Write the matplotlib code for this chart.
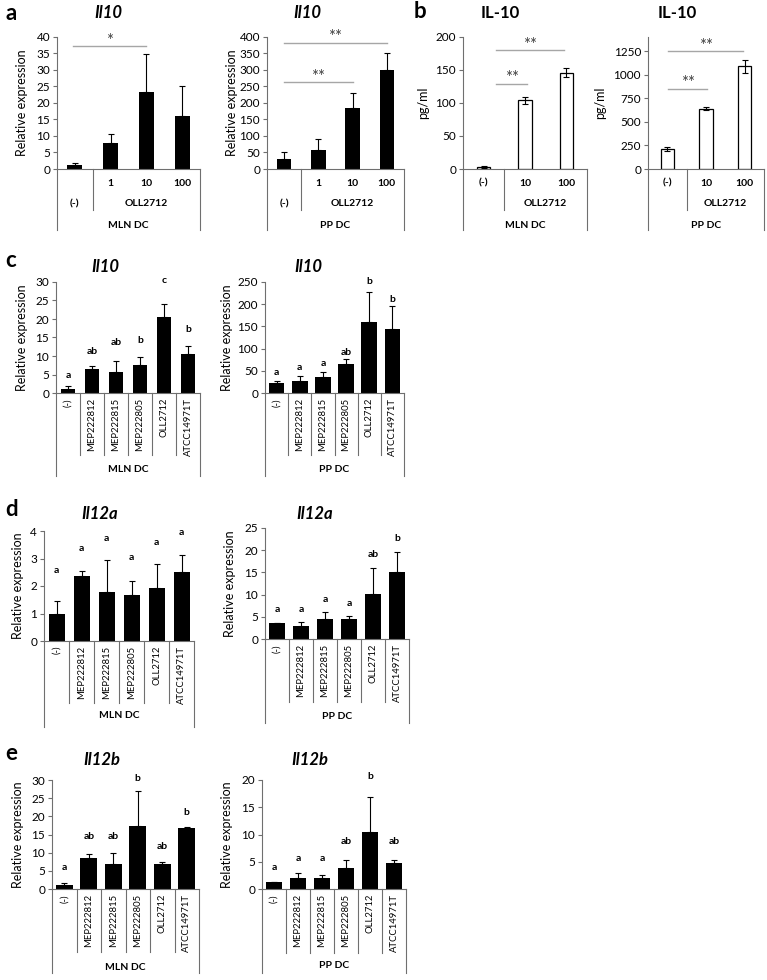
import numpy as np
import matplotlib
matplotlib.use('Agg')
import matplotlib.pyplot as plt

plt.rcParams['font.family'] = ['Lato', 'DejaVu Sans']

W, H = 767, 980
AXC = '#6f6f6f'
SIGC = '#a6a6a6'

# ---- panel a: Il10 qPCR, OLL2712 doses
a_doses = ['1', '10', '100']
a_mln = [1.2, 8.0, 23.2, 16.0]
a_mln_err = [0.5, 2.5, 11.5, 9.3]
a_pp = [29, 58, 185, 300]
a_pp_err = [21, 34, 44, 52]

# ---- panel b: IL-10 ELISA
b_doses = ['(-)', '10', '100']
b_mln = [3, 104, 146]
b_mln_err = [1, 5, 7]
b_pp = [214, 641, 1090]
b_pp_err = [20, 18, 70]

# ---- panels c-e: strains
strains = ['(-)', 'MEP222812', 'MEP222815', 'MEP222805', 'OLL2712', 'ATCC14971T']

c_mln = [1.1, 6.4, 5.8, 7.7, 20.6, 10.6]
c_mln_err = [0.7, 1.0, 2.9, 2.0, 3.5, 2.1]
c_mln_lab = ['a', 'ab', 'ab', 'b', 'c', 'b']
c_mln_lab_y = [4.8, 11.1, 13.6, 14.2, 30.4, 17.1]
c_pp = [22, 26.4, 35.4, 65.6, 161, 145]
c_pp_err = [4, 13, 13, 12, 67, 52]
c_pp_lab = ['a', 'a', 'a', 'ab', 'b', 'b']
c_pp_lab_y = [46.8, 56.6, 67, 90.5, 251, 211]

d_mln = [1.0, 2.38, 1.8, 1.69, 1.91, 2.51]
d_mln_err = [0.45, 0.18, 1.15, 0.48, 0.9, 0.63]
d_mln_lab = ['a', 'a', 'a', 'a', 'a', 'a']
d_mln_lab_y = [2.55, 3.36, 3.72, 3.02, 3.57, 3.96]
d_pp = [3.5, 2.9, 4.6, 4.6, 10.2, 15.0]
d_pp_err = [0.15, 1.0, 1.4, 0.5, 5.8, 4.6]
d_pp_lab = ['a', 'a', 'a', 'a', 'ab', 'b']
d_pp_lab_y = [6.7, 6.7, 9.0, 7.9, 19.1, 22.7]

e_mln = [1.1, 8.5, 6.8, 17.4, 7.0, 16.7]
e_mln_err = [0.5, 1.1, 3.1, 9.6, 0.35, 0.5]
e_mln_lab = ['a', 'ab', 'ab', 'b', 'ab', 'b']
e_mln_lab_y = [5.8, 14.5, 14.5, 30.5, 11.7, 21.1]
e_pp = [1.2, 1.96, 2.0, 3.9, 10.4, 4.7]
e_pp_err = [0.12, 1.0, 0.5, 1.5, 6.5, 0.6]
e_pp_lab = ['a', 'a', 'a', 'ab', 'b', 'ab']
e_pp_lab_y = [3.9, 5.6, 5.6, 8.7, 20.6, 8.7]

fig = plt.figure(figsize=(W / 100, H / 100), dpi=100)


def make_ax(x0, x1, ytop, ybot, ymax, step, n, tmax=None):
	ax = fig.add_axes([x0 / W, 1 - ybot / H, (x1 - x0) / W, (ybot - ytop) / H])
	ax.px = (ytop, ybot)
	ax.set_xlim(-0.5, n - 0.5)
	ax.set_ylim(0, ymax)
	if tmax is None:
		tmax = ymax
	ax.set_yticks(np.arange(0, tmax + step / 2, step))
	ax.set_xticks([])
	for s in ('top', 'right'):
		ax.spines[s].set_visible(False)
	for s in ('left', 'bottom'):
		ax.spines[s].set_color(AXC)
		ax.spines[s].set_linewidth(0.8)
	ax.tick_params(axis='y', direction='out', length=3, width=0.8, color=AXC,
				   labelsize=8.5, pad=2)
	ax.patch.set_alpha(0)
	return ax


def fy(ax, y):
	yt, yb = ax.px
	return (yb - y) / (yb - yt)


def vline(ax, x, y0, y1):
	ax.plot([x, x], [fy(ax, y0), fy(ax, y1)], transform=ax.get_xaxis_transform(),
			color=AXC, lw=0.8, clip_on=False)


def ctext(ax, x, y, s, **kw):
	ax.text(x, fy(ax, y), s, transform=ax.get_xaxis_transform(), ha='center',
			va='center', fontsize=7.5, **kw)


def ylabel(x, ax, s):
	yt, yb = ax.px
	fig.text(x / W, 1 - (yt + yb) / 2 / H, s, rotation=90, ha='center', va='center',
			 fontsize=9)


def title(x, y, s, italic=True):
	fig.text(x / W, 1 - y / H, s, ha='center', va='center', fontsize=12,
			 fontweight='bold', fontstyle='italic' if italic else 'normal')


def letter(x, y, s):
	fig.text(x / W, 1 - y / H, s, ha='left', va='center', fontsize=16, fontweight='bold')


def sig(ax, x0, x1, y, s, c='#404040'):
	ax.plot([x0, x1], [y, y], color=SIGC, lw=1, clip_on=False)
	ax.annotate(s, xy=((x0 + x1) / 2, y), xytext=(0, 4), textcoords='offset points',
				ha='center', va='center', fontsize=12, color=c, annotation_clip=False)


def black_bars(ax, vals, err, width):
	x = np.arange(len(vals))
	ax.bar(x, vals, width=width, color='black', zorder=2)
	ax.errorbar(x, vals, yerr=[np.zeros(len(err)), err], fmt='none', ecolor='black',
				elinewidth=0.8, capsize=2.5, capthick=0.8, zorder=1)


def white_bars(ax, vals, err, width):
	x = np.arange(len(vals))
	ax.bar(x, vals, width=width, color='white', edgecolor='black', lw=0.9, zorder=2)
	ax.errorbar(x, vals, yerr=err, fmt='none', ecolor='black', elinewidth=0.8,
				capsize=2.5, capthick=0.8, zorder=3)


def dose_table(ax, n, sub, first_sub, cell):
	yb = ax.px[1]
	vline(ax, -0.5, yb, 230)
	vline(ax, n - 0.5, yb, 230)
	vline(ax, 0.5, yb, 210)
	for i, s in enumerate(sub):
		ctext(ax, i + 1, 183, s, fontweight='bold')
	ctext(ax, 0, 183 if first_sub else 204, '(-)', fontweight='bold')
	ctext(ax, (n) / 2, 204, 'OLL2712', fontweight='bold')
	ctext(ax, (n - 1) / 2, 225, cell, fontweight='bold')


def strain_table(ax, sep_bot, out_bot, lab_y, cell):
	yb = ax.px[1]
	n = len(strains)
	vline(ax, -0.5, yb, out_bot)
	vline(ax, n - 0.5, yb, out_bot)
	for i in range(n - 1):
		vline(ax, i + 0.5, yb, sep_bot)
	for i, s in enumerate(strains):
		ax.text(i, fy(ax, yb + 5), s, transform=ax.get_xaxis_transform(), rotation=90,
				ha='center', va='top', fontsize=6.8)
	ctext(ax, (n - 1) / 2, lab_y, cell, fontweight='bold')


def strain_letters(ax, labs, ys):
	for i, (s, y) in enumerate(zip(labs, ys)):
		ax.text(i, y, s, ha='center', va='center', fontsize=7.5, fontweight='bold',
				clip_on=False)


# ---------------- a
ax = make_ax(57, 200, 37, 169, 40, 5, 4)
black_bars(ax, a_mln, a_mln_err, 0.42)
sig(ax, -0.05, 2, 37.2, '*')
dose_table(ax, 4, a_doses, False, 'MLN DC')
ylabel(22, ax, 'Relative expression')
title(108, 13, 'Il10')
letter(5, 14, 'a')

ax = make_ax(267, 404, 37, 169, 400, 50, 4)
black_bars(ax, a_pp, a_pp_err, 0.42)
sig(ax, 0, 2, 263, '**')
sig(ax, 0, 3, 382, '**')
dose_table(ax, 4, a_doses, False, 'PP DC')
ylabel(232, ax, 'Relative expression')
title(307, 13, 'Il10')

# ---------------- b
ax = make_ax(463, 587, 37, 169, 200, 50, 3)
white_bars(ax, b_mln, b_mln_err, 0.32)
sig(ax, 0.31, 1.04, 129, '**')
sig(ax, 0.31, 1.94, 180, '**')
dose_table(ax, 3, b_doses[1:], True, 'MLN DC')
ylabel(423, ax, 'pg/ml')
title(500, 13, 'IL-10', italic=False)
letter(414, 12, 'b')

ax = make_ax(648, 764, 37, 169, 1400, 250, 3, tmax=1250)
white_bars(ax, b_pp, b_pp_err, 0.34)
sig(ax, 0.03, 1.03, 851, '**')
sig(ax, 0.03, 1.96, 1247, '**')
dose_table(ax, 3, b_doses[1:], True, 'PP DC')
ylabel(600, ax, 'pg/ml')
title(677, 13, 'IL-10', italic=False)

# ---------------- c
ax = make_ax(56, 200, 282, 393, 30, 5, 6)
black_bars(ax, c_mln, c_mln_err, 0.62)
strain_letters(ax, c_mln_lab, c_mln_lab_y)
strain_table(ax, 455, 476, 469, 'MLN DC')
ylabel(22, ax, 'Relative expression')
title(105, 267, 'Il10')
letter(5, 260, 'c')

ax = make_ax(265, 404, 282, 393, 250, 50, 6)
black_bars(ax, c_pp, c_pp_err, 0.68)
strain_letters(ax, c_pp_lab, c_pp_lab_y)
strain_table(ax, 455, 476, 469, 'PP DC')
ylabel(227, ax, 'Relative expression')
title(308, 267, 'Il10')

# ---------------- d
ax = make_ax(44, 194, 531, 641, 4, 1, 6)
black_bars(ax, d_mln, d_mln_err, 0.64)
strain_letters(ax, d_mln_lab, d_mln_lab_y)
strain_table(ax, 703, 727, 715, 'MLN DC')
ylabel(18, ax, 'Relative expression')
title(100, 514, 'Il12a')
letter(5, 510, 'd')

ax = make_ax(265, 409, 528, 639, 25, 5, 6)
black_bars(ax, d_pp, d_pp_err, 0.66)
strain_letters(ax, d_pp_lab, d_pp_lab_y)
strain_table(ax, 702, 723, 716, 'PP DC')
ylabel(230, ax, 'Relative expression')
title(315, 514, 'Il12a')

# ---------------- e
ax = make_ax(52, 199, 780, 889, 30, 5, 6)
black_bars(ax, e_mln, e_mln_err, 0.68)
strain_letters(ax, e_mln_lab, e_mln_lab_y)
strain_table(ax, 952, 973, 967, 'MLN DC')
ylabel(18, ax, 'Relative expression')
title(102, 760, 'Il12b')
letter(5, 753, 'e')

ax = make_ax(262, 406, 780, 889, 20, 5, 6)
black_bars(ax, e_pp, e_pp_err, 0.68)
strain_letters(ax, e_pp_lab, e_pp_lab_y)
strain_table(ax, 953, 973, 965, 'PP DC')
ylabel(227, ax, 'Relative expression')
title(310, 760, 'Il12b')

fig.savefig('out.png', dpi=100)
